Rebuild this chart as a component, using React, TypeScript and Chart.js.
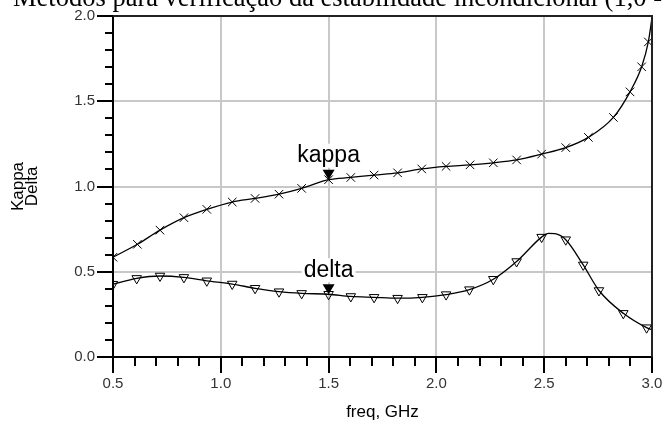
import React, { useEffect, useRef } from 'react';
import { Chart, registerables } from 'chart.js';

Chart.register(...registerables);

// ---------- data ----------
const titleText = 'Métodos para verificação da estabilidade incondicional (1,0 - 3,0 GHz)';
const xAxisTitle = 'freq, GHz';
const yAxisTitle = ['Kappa', 'Delta'];
const xMajorTicks = [0.5, 1.0, 1.5, 2.0, 2.5, 3.0];
const yMajorTicks = [0.0, 0.5, 1.0, 1.5, 2.0];

// kappa trace (line)
const kappaFreq = [0.5, 0.613, 0.718, 0.829, 0.935, 1.053, 1.159, 1.27, 1.375, 1.5, 1.603, 1.711, 1.82, 1.932, 2.045, 2.156, 2.264, 2.372, 2.488, 2.6, 2.705, 2.821, 2.898, 2.952, 2.983, 3.0];
const kappaVal = [0.585, 0.661, 0.744, 0.817, 0.866, 0.909, 0.93, 0.955, 0.989, 1.04, 1.053, 1.067, 1.08, 1.103, 1.118, 1.127, 1.139, 1.156, 1.19, 1.228, 1.288, 1.405, 1.555, 1.702, 1.848, 1.99];
// kappa symbols
const kappaMarkFreq = [0.5, 0.613, 0.718, 0.829, 0.935, 1.053, 1.159, 1.27, 1.375, 1.5, 1.603, 1.711, 1.82, 1.932, 2.045, 2.156, 2.264, 2.372, 2.488, 2.6, 2.705, 2.821, 2.898, 2.952, 2.983];
const kappaMarkVal = [0.585, 0.661, 0.744, 0.817, 0.866, 0.909, 0.93, 0.955, 0.989, 1.04, 1.053, 1.067, 1.08, 1.103, 1.118, 1.127, 1.139, 1.156, 1.19, 1.228, 1.288, 1.405, 1.555, 1.702, 1.848];

// delta trace (line)
const deltaFreq = [0.5, 0.61, 0.718, 0.829, 0.935, 1.053, 1.159, 1.27, 1.375, 1.5, 1.603, 1.711, 1.82, 1.935, 2.045, 2.153, 2.264, 2.372, 2.488, 2.52, 2.55, 2.6, 2.681, 2.754, 2.867, 2.975, 3.0];
const deltaVal = [0.427, 0.461, 0.475, 0.467, 0.447, 0.428, 0.403, 0.383, 0.373, 0.368, 0.355, 0.35, 0.345, 0.35, 0.366, 0.395, 0.456, 0.56, 0.703, 0.725, 0.723, 0.688, 0.54, 0.39, 0.256, 0.172, 0.16];
// delta symbols
const deltaMarkFreq = [0.5, 0.61, 0.718, 0.829, 0.935, 1.053, 1.159, 1.27, 1.375, 1.5, 1.603, 1.711, 1.82, 1.935, 2.045, 2.153, 2.264, 2.372, 2.488, 2.6, 2.681, 2.754, 2.867, 2.975];
const deltaMarkVal = [0.427, 0.461, 0.475, 0.467, 0.447, 0.428, 0.403, 0.383, 0.373, 0.368, 0.355, 0.35, 0.345, 0.35, 0.366, 0.395, 0.456, 0.56, 0.703, 0.688, 0.54, 0.39, 0.256, 0.172];

// marker annotations
const annotFreq = [1.5, 1.5];
const annotVal = [1.04, 0.368];
const annotLabel = ['kappa', 'delta'];

// ---------- helpers ----------
const SANS = '"Liberation Sans", Arial, sans-serif';
const isMajor = (v: number, list: number[]) => list.some((m) => Math.abs(m - v) < 1e-6);
const pts = (xs: number[], ys: number[]) => xs.map((x, i) => ({ x, y: ys[i] }));

const decorPlugin = {
  id: 'decor',
  afterDatasetsDraw(chart: any) {
    const { ctx, scales } = chart;
    const xs = scales.x;
    const ys = scales.y;
    ctx.save();
    annotFreq.forEach((f, i) => {
      const px = xs.getPixelForValue(f);
      const py = ys.getPixelForValue(annotVal[i]);
      ctx.font = `23px ${SANS}`;
      const w = ctx.measureText(annotLabel[i]).width;
      const cy = py - 10 - 14;
      ctx.fillStyle = '#fff';
      ctx.fillRect(px - w / 2 - 2, cy - 12, w + 4, 24);
      ctx.fillStyle = '#000';
      ctx.textAlign = 'center';
      ctx.textBaseline = 'middle';
      ctx.fillText(annotLabel[i], px, cy);
      ctx.beginPath();
      ctx.moveTo(px - 6, py - 10);
      ctx.lineTo(px + 6, py - 10);
      ctx.lineTo(px, py);
      ctx.closePath();
      ctx.fill();
    });
    ctx.restore();
  },
  afterDraw(chart: any) {
    const { ctx, chartArea, scales } = chart;
    const { left, right, top, bottom } = chartArea;
    ctx.save();
    ctx.strokeStyle = '#222';
    ctx.lineWidth = 2;
    ctx.beginPath();
    ctx.moveTo(left, Math.round(top));
    ctx.lineTo(Math.round(right), Math.round(top));
    ctx.lineTo(Math.round(right), bottom);
    ctx.stroke();
    ctx.strokeStyle = '#000';
    ctx.lineWidth = 2;
    ctx.beginPath();
    scales.y.ticks.forEach((t: any) => {
      const py = Math.round(scales.y.getPixelForValue(t.value));
      const len = isMajor(t.value, yMajorTicks) ? 16 : 8;
      ctx.moveTo(left - len, py);
      ctx.lineTo(left, py);
    });
    scales.x.ticks.forEach((t: any) => {
      const px = Math.round(scales.x.getPixelForValue(t.value));
      const len = isMajor(t.value, xMajorTicks) ? 16 : 9;
      ctx.moveTo(px, bottom);
      ctx.lineTo(px, bottom + len);
    });
    ctx.stroke();
    ctx.fillStyle = '#fff';
    ctx.fillRect(0, 0, chart.width, 10);
    ctx.fillStyle = '#000';
    ctx.font = '26.5px "Liberation Serif", "Times New Roman", serif';
    ctx.textAlign = 'left';
    ctx.textBaseline = 'alphabetic';
    ctx.fillText(titleText, 13, 6);
    ctx.restore();
  },
};

const noPad = (s: any) => {
  s.paddingTop = 0;
  s.paddingBottom = 0;
  s.paddingLeft = 0;
  s.paddingRight = 0;
};

export default function App() {
  const ref = useRef<HTMLCanvasElement | null>(null);

  useEffect(() => {
    if (!ref.current) return;
    const gridColor = (list: number[], min: number, max: number) => (c: any) => {
      const v = c.tick ? c.tick.value : NaN;
      if (Math.abs(v - min) < 1e-6 || Math.abs(v - max) < 1e-6) return 'rgba(0,0,0,0)';
      return isMajor(v, list) ? '#c8c8c8' : 'rgba(0,0,0,0)';
    };
    const chart = new Chart(ref.current, {
      type: 'line',
      data: {
        datasets: [
          {
            data: pts(kappaFreq, kappaVal),
            borderColor: '#000',
            borderWidth: 1.3,
            pointRadius: 0,
            cubicInterpolationMode: 'monotone',
            fill: false,
          },
          {
            data: pts(kappaMarkFreq, kappaMarkVal),
            showLine: false,
            pointStyle: 'crossRot',
            pointRadius: 6,
            pointBorderColor: '#000',
            pointBorderWidth: 1,
            pointBackgroundColor: 'rgba(0,0,0,0)',
          },
          {
            data: pts(deltaFreq, deltaVal),
            borderColor: '#000',
            borderWidth: 1.3,
            pointRadius: 0,
            cubicInterpolationMode: 'monotone',
            fill: false,
          },
          {
            data: pts(deltaMarkFreq, deltaMarkVal),
            showLine: false,
            pointStyle: 'triangle',
            pointRotation: 180,
            pointRadius: 5.5,
            pointBorderColor: '#000',
            pointBorderWidth: 1,
            pointBackgroundColor: 'rgba(0,0,0,0)',
          },
        ] as any,
      },
      options: {
        responsive: false,
        animation: false,
        devicePixelRatio: 1,
        layout: { padding: { left: 0, right: 12, top: 16, bottom: 0 } },
        plugins: { legend: { display: false }, tooltip: { enabled: false }, title: { display: false } },
        scales: {
          x: {
            type: 'linear',
            min: 0.5,
            max: 3.0,
            afterFit: (s: any) => {
              s.height = 75;
              noPad(s);
            },
            ticks: {
              stepSize: 0.1,
              autoSkip: false,
              maxRotation: 0,
              padding: 18,
              color: '#333',
              font: { family: SANS, size: 15 },
              callback: (v: any) => (isMajor(Number(v), xMajorTicks) ? Number(v).toFixed(1) : ''),
            },
            grid: { drawTicks: false, color: gridColor(xMajorTicks, 0.5, 3.0), lineWidth: 2 },
            border: { display: true, color: '#000', width: 2 },
            title: {
              display: true,
              text: xAxisTitle,
              color: '#000',
              font: { family: SANS, size: 17 },
              padding: { top: 0, bottom: 9 },
            },
          },
          y: {
            type: 'linear',
            min: 0,
            max: 2.0,
            afterFit: (s: any) => {
              s.width = 113;
              noPad(s);
            },
            ticks: {
              stepSize: 0.1,
              autoSkip: false,
              padding: 18,
              color: '#333',
              font: { family: SANS, size: 15 },
              callback: (v: any) => (isMajor(Number(v), yMajorTicks) ? Number(v).toFixed(1) : ''),
            },
            grid: { drawTicks: false, color: gridColor(yMajorTicks, 0, 2.0), lineWidth: 2 },
            border: { display: true, color: '#000', width: 2 },
            title: {
              display: true,
              text: yAxisTitle,
              color: '#000',
              font: { family: SANS, size: 17, lineHeight: '14px' },
              padding: { top: 11, bottom: 0 },
            },
          },
        },
      } as any,
      plugins: [decorPlugin],
    });
    return () => chart.destroy();
  }, []);

  return (
    <div style={{ position: 'absolute', left: 0, top: 0, width: 664, height: 432, background: '#fff' }}>
      <canvas ref={ref} width={664} height={432} style={{ display: 'block' }} />
    </div>
  );
}
